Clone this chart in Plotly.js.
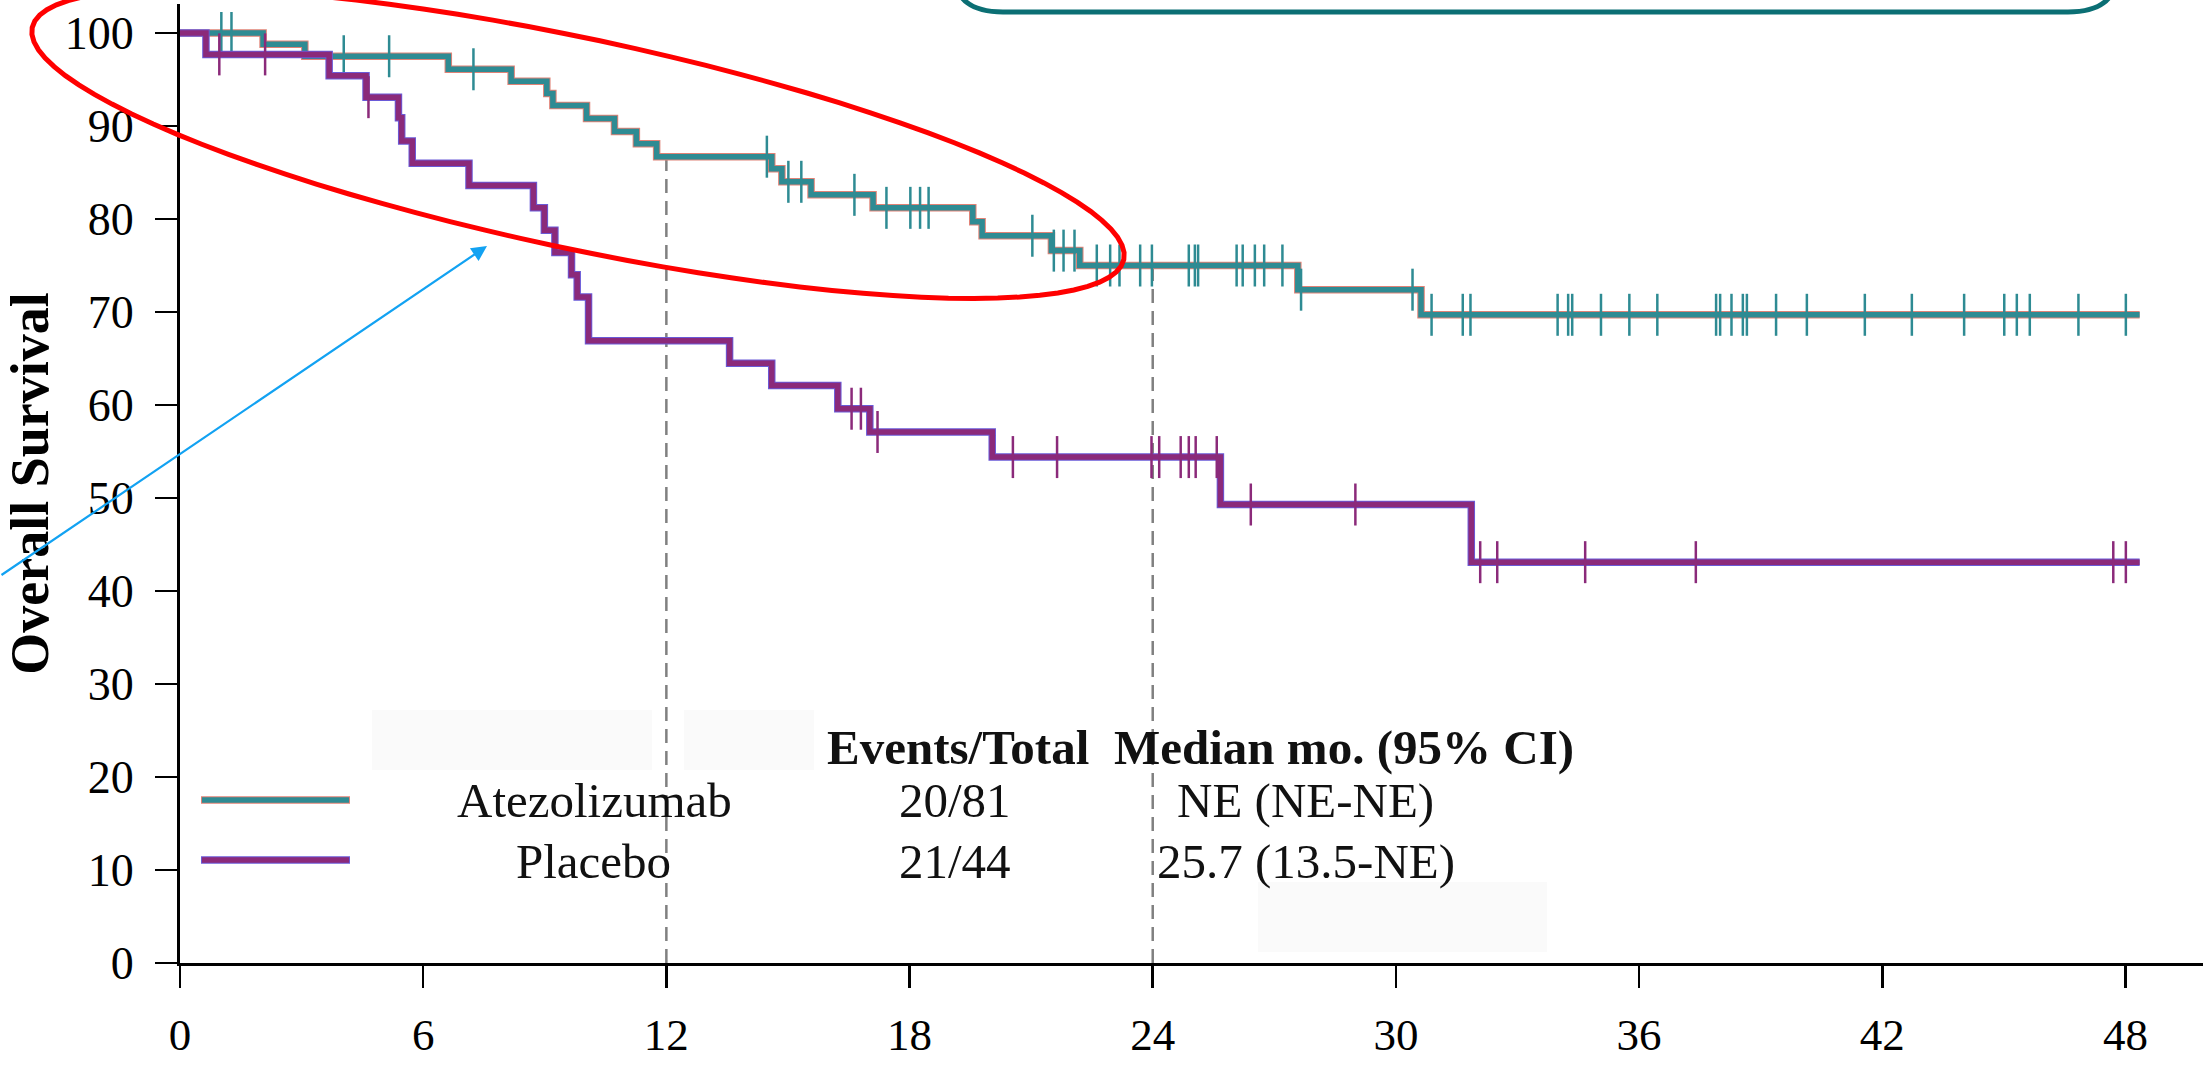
<!DOCTYPE html>
<html><head><meta charset="utf-8">
<script src="https://cdn.plot.ly/plotly-3.0.1.min.js"></script>
<style>html,body{margin:0;padding:0;background:#fff;}#chart{width:2203px;height:1073px;}</style>
</head><body><div id="chart"></div>
<script>
// ---- data ----
const atezoTime = [0, 2.05, 3.08, 6.62, 8.17, 9.05, 9.2, 10.03, 10.72, 11.26, 11.76, 14.6, 14.85, 15.57, 17.1, 19.56, 19.79, 21.5, 22.2, 27.58, 30.62, 48.35];
const atezoSurv = [100, 98.8, 97.5, 96.1, 94.8, 93.5, 92.2, 90.8, 89.4, 88.1, 86.7, 85.4, 84.0, 82.6, 81.2, 79.7, 78.2, 76.6, 75.0, 72.4, 69.7, 69.7];
const atezoCensor = [1.02, 1.27, 4.04, 5.16, 7.24, 14.48, 15.01, 15.33, 16.64, 17.43, 18.02, 18.26, 18.47, 21.03, 21.56, 21.8, 22.07, 22.62, 22.95, 23.18, 23.69, 23.98, 24.89, 25.04, 25.12, 26.07, 26.22, 26.52, 26.75, 27.2, 27.66, 30.41, 30.88, 31.65, 31.84, 33.99, 34.25, 34.35, 35.06, 35.76, 36.45, 37.9, 38.0, 38.28, 38.56, 38.66, 39.38, 40.14, 41.57, 42.73, 44.02, 45.01, 45.32, 45.64, 46.84, 48.01];
const placeboTime = [0, 0.64, 3.68, 4.59, 5.39, 5.47, 5.73, 7.13, 8.72, 8.99, 9.25, 9.66, 9.8, 10.08, 13.56, 14.6, 16.23, 17.02, 20.04, 25.67, 31.86, 48.35];
const placeboSurv = [100, 97.7, 95.4, 93.1, 90.9, 88.4, 86.0, 83.6, 81.2, 78.8, 76.4, 74.0, 71.6, 66.9, 64.5, 62.1, 59.6, 57.1, 54.4, 49.3, 43.1, 43.1];
const placeboCensor = [0.97, 2.1, 4.65, 16.57, 16.8, 17.21, 20.55, 21.64, 23.97, 24.16, 24.69, 24.89, 25.06, 25.58, 26.42, 29.0, 32.08, 32.5, 34.67, 37.4, 47.7, 48.01];
const landmarkTime = [12, 24];
const landmarkSurv = [86.7, 75.0];
const xTicks = [0, 6, 12, 18, 24, 30, 36, 42, 48];
const yTicks = [0, 10, 20, 30, 40, 50, 60, 70, 80, 90, 100];
const armNames = ['Atezolizumab', 'Placebo'];
const eventsTotal = ['20/81', '21/44'];
const medianCI = ['NE (NE-NE)', '25.7 (13.5-NE)'];
const tableHeaders = ['Events/Total', 'Median mo. (95% CI)'];
const yTitle = 'Overall Survival';

// ---- styling ----
const TEAL = '#2e8b93', PURPLE = '#8b2a7a';
const FONT = 'Liberation Serif, Times New Roman, serif';
const L = 180, T = 4, PW = 2023, PH = 959;
const px = X => (X - L) / PW;
const py = Y => (963 - Y) / PH;
const P = (X, Y) => px(X).toFixed(5) + ',' + py(Y).toFixed(5);

function survAt(times, survs, t) {
  let s = survs[0];
  for (let i = 0; i < times.length; i++) if (times[i] <= t) s = survs[i];
  return s;
}

const traces = [];
landmarkTime.forEach((t, i) => {
  traces.push({x: [t, t], y: [0, landmarkSurv[i]], mode: 'lines', hoverinfo: 'skip',
    line: {color: '#808080', width: 2.5, dash: '14px,8px'}});
});
traces.push({x: atezoTime, y: atezoSurv, mode: 'lines', line: {shape: 'hv', color: '#e08276', width: 7.5}, hoverinfo: 'skip'});
traces.push({x: atezoTime, y: atezoSurv, mode: 'lines', name: armNames[0], line: {shape: 'hv', color: TEAL, width: 5.5}});
traces.push({x: atezoCensor, y: atezoCensor.map(t => survAt(atezoTime, atezoSurv, t)), mode: 'markers',
  marker: {symbol: 'line-ns', size: 30, color: TEAL, line: {width: 2.5, color: TEAL}}, hoverinfo: 'x+y'});
traces.push({x: placeboTime, y: placeboSurv, mode: 'lines', line: {shape: 'hv', color: '#6a5ad8', width: 7.5}, hoverinfo: 'skip'});
traces.push({x: placeboTime, y: placeboSurv, mode: 'lines', name: armNames[1], line: {shape: 'hv', color: PURPLE, width: 5.5}});
traces.push({x: placeboCensor, y: placeboCensor.map(t => survAt(placeboTime, placeboSurv, t)), mode: 'markers',
  marker: {symbol: 'line-ns', size: 30, color: PURPLE, line: {width: 2.5, color: PURPLE}}, hoverinfo: 'x+y'});

// decorative ellipse (rotated)
const cx = 578, cy = 143.5, ea = 558, eb = 105, th = 12.0 * Math.PI / 180;
let ell = '';
for (let k = 0; k <= 96; k++) {
  const f = 2 * Math.PI * k / 96, u = ea * Math.cos(f), v = eb * Math.sin(f);
  const X = cx + u * Math.cos(th) - v * Math.sin(th), Y = cy + u * Math.sin(th) + v * Math.cos(th);
  ell += (k === 0 ? 'M ' : ' L ') + P(X, Y);
}
ell += ' Z';

const box = 'M ' + P(955, -60) + ' L ' + P(955, -25) + ' C ' + P(955, 0) + ' ' + P(972, 12) + ' ' + P(1003, 12) +
  ' L ' + P(2068, 12) + ' C ' + P(2099, 12) + ' ' + P(2116, 0) + ' ' + P(2116, -25) + ' L ' + P(2116, -60);

const shapes = [
  {type: 'rect', xref: 'paper', yref: 'paper', x0: px(372), x1: px(652), y0: py(770), y1: py(710), fillcolor: '#fafafa', line: {width: 0}, layer: 'below'},
  {type: 'rect', xref: 'paper', yref: 'paper', x0: px(684), x1: px(814), y0: py(770), y1: py(710), fillcolor: '#fafafa', line: {width: 0}, layer: 'below'},
  {type: 'rect', xref: 'paper', yref: 'paper', x0: px(1258), x1: px(1547), y0: py(952), y1: py(882), fillcolor: '#fafafa', line: {width: 0}, layer: 'below'},
  {type: 'line', xref: 'paper', yref: 'paper', x0: px(201), x1: px(350), y0: py(800), y1: py(800), line: {color: '#e08276', width: 7.5}},
  {type: 'line', xref: 'paper', yref: 'paper', x0: px(202), x1: px(349), y0: py(800), y1: py(800), line: {color: TEAL, width: 5.5}},
  {type: 'line', xref: 'paper', yref: 'paper', x0: px(201), x1: px(350), y0: py(860), y1: py(860), line: {color: '#6a5ad8', width: 7.5}},
  {type: 'line', xref: 'paper', yref: 'paper', x0: px(202), x1: px(349), y0: py(860), y1: py(860), line: {color: PURPLE, width: 5.5}},
  {type: 'path', xref: 'paper', yref: 'paper', path: ell, line: {color: '#ff0000', width: 5}},
  {type: 'path', xref: 'paper', yref: 'paper', path: box, line: {color: '#0b6f74', width: 5}}
];

const txt = (s, X, Y, bold, size) => ({text: s, xref: 'paper', yref: 'paper', x: px(X), y: py(Y),
  xanchor: 'center', yanchor: 'middle', showarrow: false,
  font: {family: FONT, size: size || 49, color: '#111', weight: bold ? 'bold' : 'normal'}});

const annotations = [
  txt(tableHeaders[0], 958, 747, true),
  txt(tableHeaders[1], 1344, 747, true),
  txt(armNames[0], 594, 800),
  txt(eventsTotal[0], 955, 800),
  txt(medianCI[0], 1305, 800),
  txt(armNames[1], 593, 861),
  txt(eventsTotal[1], 955, 861),
  txt(medianCI[1], 1306, 861),
  {text: '', xref: 'paper', yref: 'paper', x: px(487), y: py(246), ax: -487, ay: 330,
   showarrow: true, arrowhead: 2, arrowsize: 1.4, arrowwidth: 2.2, arrowcolor: '#12a2f2', standoff: 0}
];

const layout = {
  width: 2203, height: 1073,
  margin: {l: L, r: 0, t: T, b: 110, pad: 0},
  paper_bgcolor: '#fff', plot_bgcolor: '#fff',
  showlegend: false,
  font: {family: FONT, color: '#000'},
  xaxis: {range: [0, 2023 / 40.53], tickvals: xTicks, ticktext: xTicks.map(String), ticks: 'outside', ticklen: 22,
    tickwidth: 2.5, tickcolor: '#000', showline: true, linewidth: 3, linecolor: '#000', showgrid: false, zeroline: false,
    tickfont: {family: FONT, size: 45, color: '#000'}, ticklabelstandoff: 8},
  yaxis: {range: [0, 959 / 9.3], tickvals: yTicks, ticktext: yTicks.map(String), ticks: 'outside', ticklen: 22,
    tickwidth: 2.5, tickcolor: '#000', showline: true, linewidth: 3, linecolor: '#000', showgrid: false, zeroline: false,
    tickfont: {family: FONT, size: 46, color: '#000'}, ticklabelstandoff: 12,
    title: {text: yTitle, font: {family: FONT, size: 54, color: '#000', weight: 'bold'}, standoff: 18}},
  shapes: shapes,
  annotations: annotations
};

Plotly.newPlot('chart', traces, layout, {displayModeBar: false, staticPlot: true});
</script></body></html>
